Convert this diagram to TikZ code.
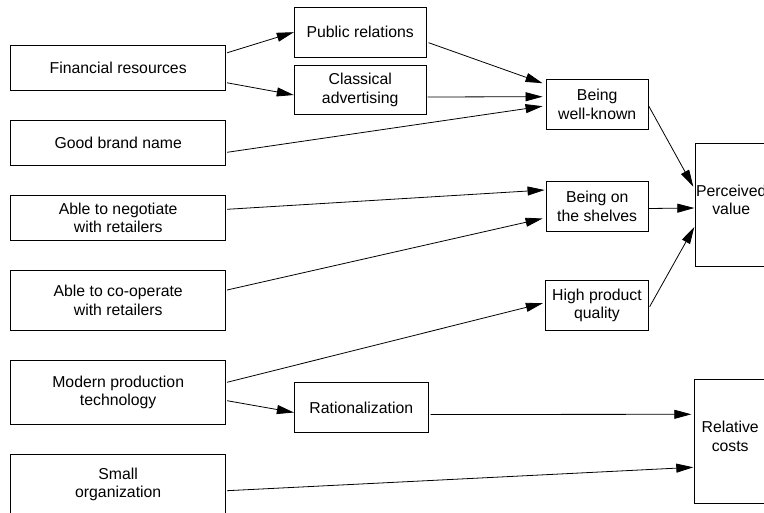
\documentclass[tikz,border=0pt]{standalone}
\usepackage{fontspec}
\setmainfont{Liberation Sans}
\usetikzlibrary{arrows.meta}
\begin{document}
\begin{tikzpicture}[x=1pt,y=-1pt,
  txt/.style={inner sep=0pt, align=center, font=\fontsize{15.8}{18.5}\selectfont},
  box/.style={txt, draw=black, line width=0.8pt},
  src/.style={box, minimum width=215pt},
  mid/.style={box, minimum width=132pt, minimum height=49.5pt},
  eff/.style={box, minimum width=102.5pt, minimum height=49.5pt},
  res/.style={box, minimum width=71pt, minimum height=124pt},
  link/.style={line width=0.8pt, -{Triangle[length=17pt,width=9pt]}}]
\clip (0,0) rectangle (764,513);
% sources
\node[src, minimum height=44.3pt] (fin)  at (118.2,67.8)  {Financial resources};
\node[src, minimum height=44.3pt] (gbn)  at (118.2,142.8) {Good brand name};
\node[src, minimum height=44.3pt] (neg)  at (118.2,217.8) {Able to negotiate\\with retailers};
\node[src, minimum height=59.3pt] (coop) at (118.2,300.3) {Able to co-operate\\with retailers};
\node[src, minimum height=63.3pt] (mpt)  at (118.2,392.3) {Modern production\\technology};
\node[src, minimum height=60pt]   (so)   at (118.2,484.3) {Small\\organization};
% intermediate
\node[mid] (pr)  at (360.2,32.2)  {Public relations};
\node[mid] (ca)  at (360.2,90)    {Classical\\advertising};
\node[mid, minimum width=134pt] (rat) at (361.3,407.5) {Rationalization};
% effects
\node[eff] (bwk) at (597.2,104.2) {Being\\well-known};
\node[eff] (bos) at (597.2,206.5) {Being on\\the shelves};
\node[eff] (hpq) at (597.0,305.2) {High product\\quality};
% results: tall boxes, labels sit a little above centre
\node[res, minimum height=123.4pt] (pv) at (731.2,205) {};
\node[txt] (pvlabel) at ([shift={(0,-5)}]pv.center) {Perceived\\value};
\node[res] (rc) at (730.2,441.3) {};
\node[txt] (rclabel) at ([shift={(0,-5)}]rc.center) {Relative\\costs};
% connectors
\draw[link] ([shift={(1,-15)}]fin.east) -- (pr.west);
\draw[link] ([shift={(1,15)}]fin.east) -- ([shift={(0,5)}]ca.west);
\draw[link] ([shift={(2,10.5)}]pr.east) -- ([shift={(-3,-21)}]bwk.west);
\draw[link] ([shift={(1,7)}]ca.east) -- ([shift={(-3,-7.5)}]bwk.west);
\draw[link] ([shift={(1,9.5)}]gbn.east) -- ([shift={(-3,2)}]bwk.west);
\draw[link] ([shift={(0,2)}]bwk.east) -- ([shift={(-2,-18.3)}]pv.west);
\draw[link] ([shift={(1,-8.5)}]neg.east) -- ([shift={(-1,-16.5)}]bos.west);
\draw[link] ([shift={(1,-10.3)}]coop.east) -- ([shift={(-3,12)}]bos.west);
\draw[link] ([shift={(0,2)}]bos.east) -- ([shift={(-1,3)}]pv.west);
\draw[link] ([shift={(1,1.5)}]hpq.east) -- ([shift={(-1,22)}]pv.west);
\draw[link] ([shift={(1,-10)}]mpt.east) -- ([shift={(-2.5,-2)}]hpq.west);
\draw[link] ([shift={(1,8.4)}]mpt.east) -- ([shift={(0,5)}]rat.west);
\draw[link] ([shift={(2,7)}]rat.east) -- ([shift={(-3,-27)}]rc.west);
\draw[link] ([shift={(1,6.4)}]so.east) -- ([shift={(-1,26)}]rc.west);
\end{tikzpicture}
\end{document}
